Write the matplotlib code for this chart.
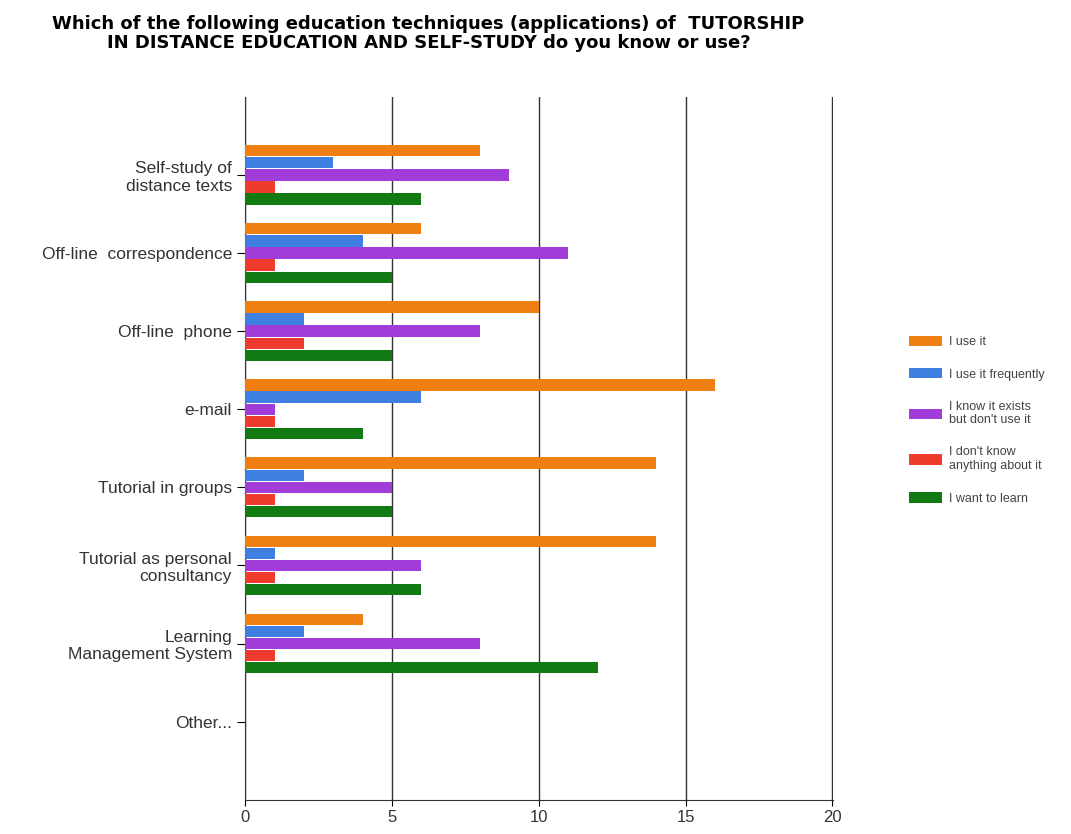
import matplotlib.pyplot as plt
import numpy as np

plt.rcParams['font.family'] = ['Liberation Sans', 'DejaVu Sans']

categories = ['Self-study of\ndistance texts', 'Off-line  correspondence', 'Off-line  phone',
              'e-mail', 'Tutorial in groups', 'Tutorial as personal\nconsultancy',
              'Learning\nManagement System', 'Other...']
series_names = ['I use it', 'I use it frequently', 'I know it exists\nbut don\'t use it',
                'I don\'t know\nanything about it', 'I want to learn']
use_it = [8, 6, 10, 16, 14, 14, 4, 0]
use_freq = [3, 4, 2, 6, 2, 1, 2, 0]
know_not_use = [9, 11, 8, 1, 5, 6, 8, 0]
dont_know = [1, 1, 2, 1, 1, 1, 1, 0]
want_learn = [6, 5, 5, 4, 5, 6, 12, 0]
colors = ['#ee7f10', '#3f7fe0', '#a03cd8', '#ee3b2e', '#127a12']

fig = plt.figure(figsize=(10.71, 8.34), dpi=100)
ax = fig.add_axes([0.229, 0.041, 0.549, 0.843])

y = np.arange(1, len(categories) + 1)
bh = 0.145
series = [use_it, use_freq, know_not_use, dont_know, want_learn]
for i, (vals, name, c) in enumerate(zip(series, series_names, colors)):
    ax.barh(y + (i - 2) * 0.155, vals, height=bh, color=c, label=name, zorder=3)

ax.set_xlim(0, 20.03)
ax.set_ylim(9, 0)
ax.set_xticks([0, 5, 10, 15, 20])
ax.set_yticks(y)
ax.set_yticklabels(categories, fontsize=12.5, color='#333333')
ax.tick_params(axis='x', labelsize=12, labelcolor='#333333', length=4)
ax.tick_params(axis='y', length=6)
ax.grid(axis='x', color='#333333', linewidth=1.0, zorder=1)
for s in ['top', 'right']:
    ax.spines[s].set_visible(False)
ax.spines['left'].set_color('#333333')
ax.spines['bottom'].set_color('#333333')

fig.suptitle('Which of the following education techniques (applications) of  TUTORSHIP\n'
             'IN DISTANCE EDUCATION AND SELF-STUDY do you know or use?',
             x=0.40, y=0.982, fontsize=13, fontweight='bold', family=['DejaVu Sans'],
             linespacing=1.05)

ax.legend(loc='center left', bbox_to_anchor=(1.11, 0.54), frameon=False, fontsize=9,
          handlelength=2.6, handleheight=0.9, labelspacing=1.6, handletextpad=0.6,
          labelcolor='#444444')

fig.savefig('out.png', dpi=100)
